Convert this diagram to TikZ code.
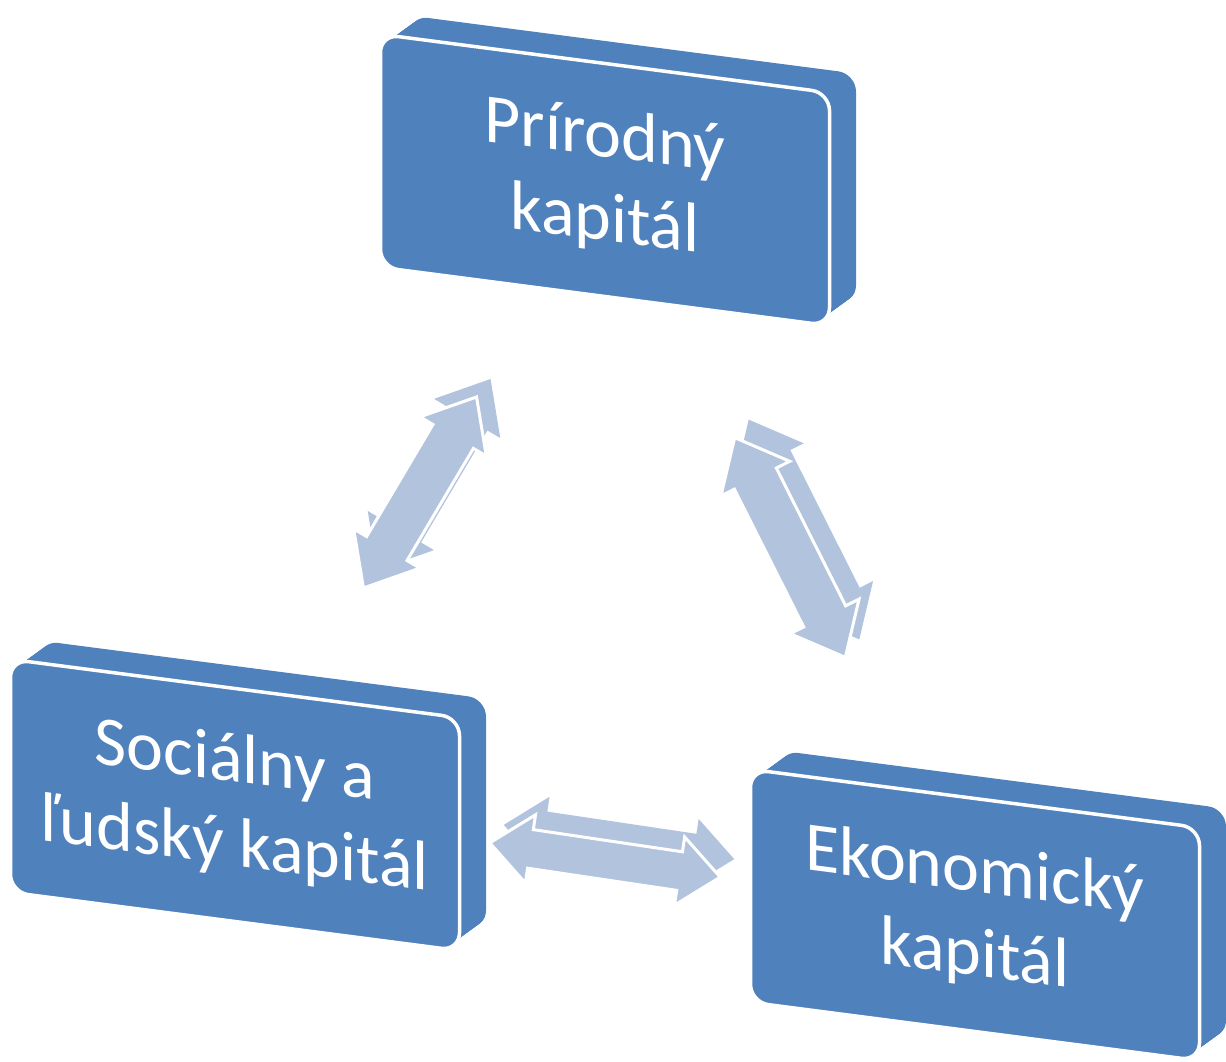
\documentclass[tikz,border=0pt]{standalone}
\usepackage{fontspec}
\setmainfont{Carlito}
\usetikzlibrary{calc,shapes.arrows}

\definecolor{boxblue}{RGB}{79,129,189}
\definecolor{arrowblue}{RGB}{178,195,222}

\tikzset{
  capbox/.style={rectangle, rounded corners=18pt, fill=boxblue, draw=white,
    line width=3.5pt, minimum width=449pt, minimum height=233pt,
    text=white, align=center, transform shape,
    font=\fontsize{70}{84}\selectfont},
  capback/.style={rectangle, rounded corners=18pt, fill=boxblue,
    minimum width=446pt, minimum height=230pt, transform shape},
  dblarrow/.style={double arrow, fill=arrowblue, draw=white, line width=3pt,
    inner xsep=0pt, inner ysep=22pt, minimum height=#1,
    double arrow head extend=15pt, double arrow tip angle=80},
  dblback/.style={dblarrow=#1, draw=none}
}

\begin{document}
\begin{tikzpicture}[x=1pt,y=1pt]
  \useasboundingbox (0,0) rectangle (1226,1061);

  % the three capital boxes
  \foreach \name/\cx/\cy/\txt in {prirodny/605/881/{Prírodný\\kapitál},
      socialny/235/256/{Sociálny a\\ľudský kapitál},
      ekonomicky/975/146/{Ekonomický\\kapitál}}{
    \begin{scope}[shift={(\cx,\cy)}, yslant=-0.13]
      \foreach \t in {1,0.95,...,0}
        \node[capback] at (28*\t,24*\t) {};
      \node[capbox] (\name) at (0,0) {\txt};
    \end{scope}
  }

  % arrows between the boxes
  \path ([shift={(14,18)}]socialny.center) -- ([shift={(14,18)}]prirodny.center)
    node[midway, sloped, dblback=222pt] {};
  \path (socialny.center) -- (prirodny.center)
    node[midway, sloped, dblarrow=222pt] (a1) {};

  \path ([shift={(14,18)}]prirodny.center) -- ([shift={(14,18)}]ekonomicky.center)
    node[midway, sloped, dblback=246pt] {};
  \path (prirodny.center) -- (ekonomicky.center)
    node[midway, sloped, dblarrow=246pt] (a2) {};

  \path ([shift={(14,18)}]socialny.center) -- ([shift={(14,18)}]ekonomicky.center)
    node[midway, sloped, dblback=233pt, inner ysep=18pt] {};
  \path (socialny.center) -- (ekonomicky.center)
    node[midway, sloped, dblarrow=233pt, inner ysep=18pt] (a3) {};
\end{tikzpicture}
\end{document}
